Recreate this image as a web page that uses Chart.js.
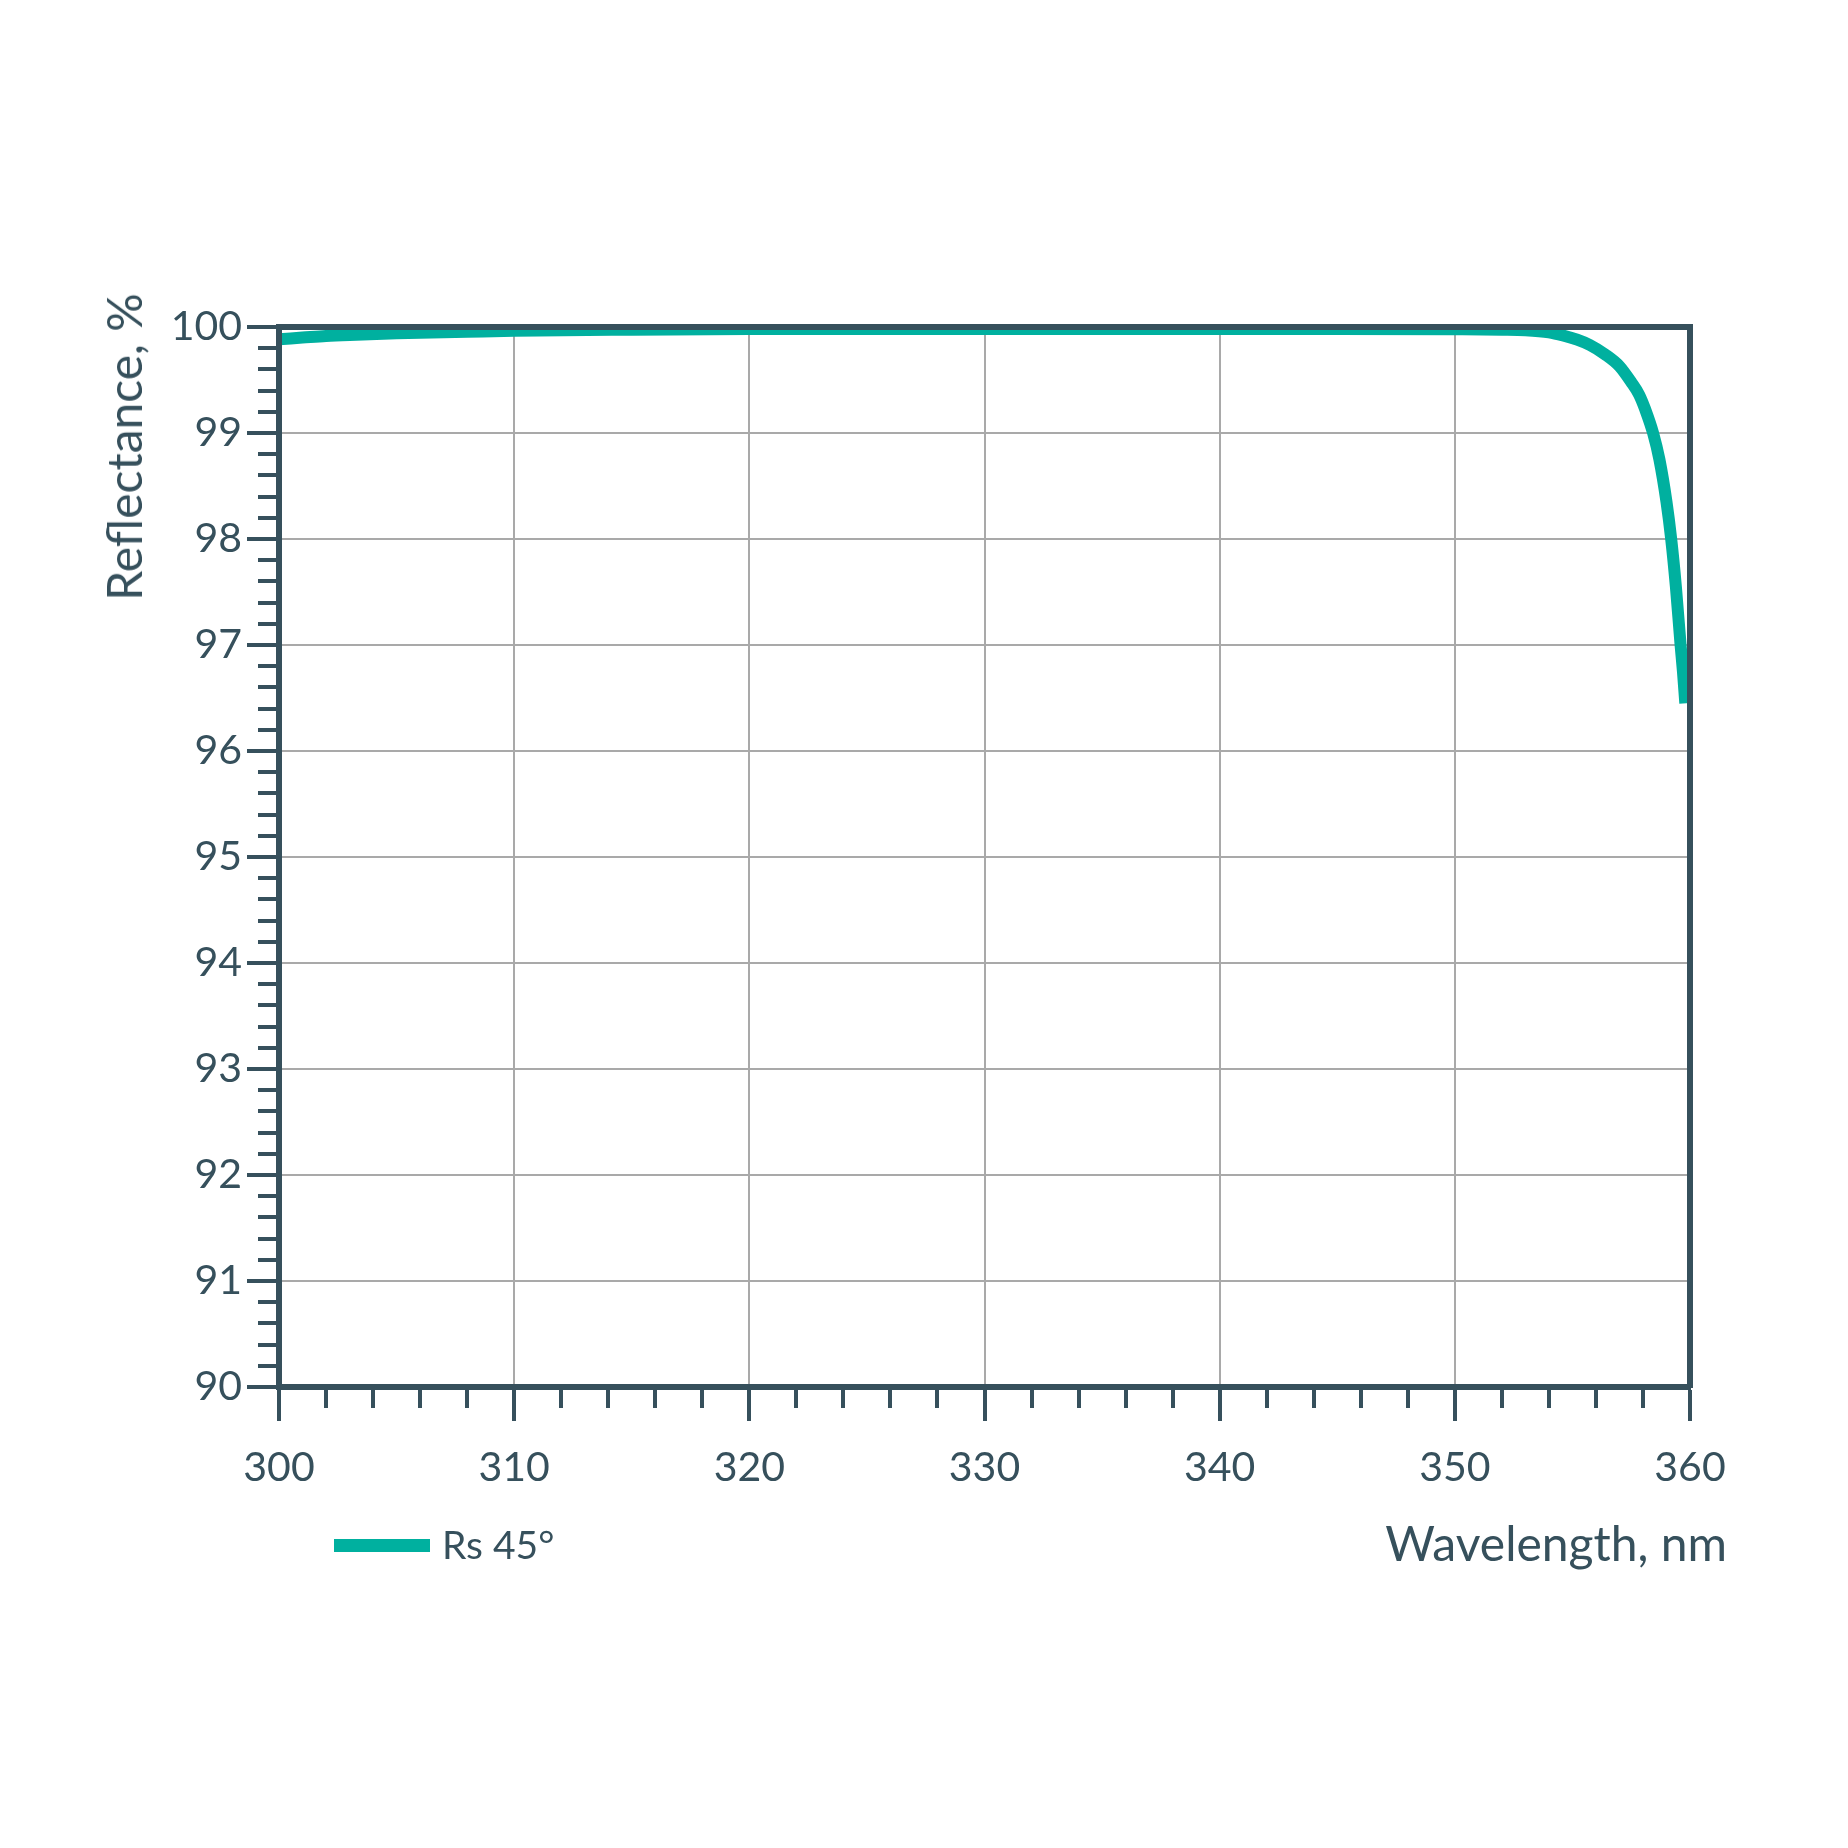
<!DOCTYPE html>
<html>
<head>
<meta charset="utf-8">
<script src="https://cdn.jsdelivr.net/npm/chart.js@4"></script>
<style>
  html, body { margin: 0; padding: 0; background: #ffffff; }
  body { width: 1848px; height: 1848px; position: relative; overflow: hidden; font-family: Lato, "Open Sans", sans-serif; color: #36505c; }
  #c { position: absolute; left: 0; top: 0; }
  .txt { position: absolute; white-space: nowrap; line-height: 1; }
  #ytitle { font-size: 48px; left: 124px; top: 447px; transform: translate(-50%, -50%) rotate(-90deg); }
  #xtitle { font-size: 48px; right: 121px; top: 1519px; }
  #legLine { position: absolute; left: 334px; top: 1539px; width: 96px; height: 13px; background: #00b09f; }
  #legText { font-size: 39px; left: 442px; top: 1525px; }
</style>
</head>
<body>
<canvas id="c" width="1848" height="1848"></canvas>
<div id="ytitle" class="txt">Reflectance, %</div>
<div id="xtitle" class="txt">Wavelength, nm</div>
<div id="legLine"></div>
<div id="legText" class="txt">Rs 45°</div>
<script>
// ---- data ----
const seriesLabel = 'Rs 45°';
const wavelengths = [300, 301, 302, 303, 305, 308, 310, 315, 320, 330, 340, 345, 350, 352, 353, 354, 354.6, 355.2, 355.74, 356.4, 357.0, 357.5, 357.84, 358.1, 358.43, 358.7, 359.0, 359.2, 359.4, 359.6, 359.7, 359.8];
const reflectance = [99.885, 99.9, 99.915, 99.925, 99.94, 99.955, 99.965, 99.975, 99.98, 99.98, 99.98, 99.98, 99.978, 99.975, 99.97, 99.95, 99.92, 99.88, 99.83, 99.74, 99.63, 99.48, 99.36, 99.22, 99.0, 98.75, 98.35, 98.0, 97.55, 97.0, 96.75, 96.45];
const xRange = [300, 360];
const xMajorStep = 10, xMinorStep = 2;
const yRange = [90, 100];
const yMajorStep = 1, yMinorStep = 0.2;

// ---- styles ----
const AXIS = '#36505c';
const GRID = '#a9a9a9';
const TEAL = '#00b09f';
const TICK_FONT = { family: 'Lato', size: 41 };

const isMajor = (v, step) => Math.abs(v / step - Math.round(v / step)) < 1e-6;

const points = wavelengths.map((x, i) => ({ x: x, y: reflectance[i] }));

new Chart(document.getElementById('c').getContext('2d'), {
  type: 'line',
  data: {
    datasets: [{
      label: seriesLabel,
      data: points,
      borderColor: TEAL,
      backgroundColor: TEAL,
      borderWidth: 12,
      pointRadius: 0,
      cubicInterpolationMode: 'monotone',
      clip: 0,
      xAxisID: 'x',
      yAxisID: 'y'
    }]
  },
  options: {
    responsive: false,
    animation: false,
    devicePixelRatio: 1,
    layout: { padding: { top: 327, right: 158, bottom: 0, left: 0 } },
    plugins: { legend: { display: false }, tooltip: { enabled: false } },
    scales: {
      x: {
        type: 'linear', position: 'bottom', min: xRange[0], max: xRange[1],
        afterFit(s) { s.height = 461; },
        border: { display: true, color: AXIS, width: 6, z: 1 },
        grid: {
          color: c => isMajor(c.tick.value, xMajorStep) ? GRID : 'rgba(0,0,0,0)',
          lineWidth: 2,
          tickColor: AXIS, tickWidth: 4, tickLength: 34,
          tickBorderDash: c => isMajor(c.tick.value, xMajorStep) ? [] : [18, 200]
        },
        ticks: {
          stepSize: xMinorStep, autoSkip: false, maxRotation: 0, minRotation: 0, maxTicksLimit: 200,
          callback: v => isMajor(v, xMajorStep) ? String(Math.round(v)) : '',
          font: TICK_FONT, color: AXIS, padding: 22
        }
      },
      y: {
        type: 'linear', position: 'left', min: yRange[0], max: yRange[1],
        afterFit(s) { s.width = 279; },
        border: { display: true, color: AXIS, width: 6, z: 1 },
        grid: {
          color: c => isMajor(c.tick.value, yMajorStep) ? GRID : 'rgba(0,0,0,0)',
          lineWidth: 2,
          tickColor: AXIS, tickWidth: 4, tickLength: 32,
          tickBorderDash: c => isMajor(c.tick.value, yMajorStep) ? [] : [0, 11, 200]
        },
        ticks: {
          stepSize: yMinorStep, autoSkip: false, maxTicksLimit: 200,
          callback: v => isMajor(v, yMajorStep) ? String(Math.round(v)) : '',
          font: TICK_FONT, color: AXIS, padding: 5
        }
      },
      xTop: {
        type: 'linear', position: 'top', min: xRange[0], max: xRange[1],
        afterFit(s) { s.height = 0; },
        border: { display: true, color: AXIS, width: 6, z: 1 },
        grid: { drawOnChartArea: false, drawTicks: false },
        ticks: { display: false }
      },
      yRight: {
        type: 'linear', position: 'right', min: yRange[0], max: yRange[1],
        afterFit(s) { s.width = 0; },
        border: { display: true, color: AXIS, width: 6, z: 1 },
        grid: { drawOnChartArea: false, drawTicks: false },
        ticks: { display: false }
      }
    }
  }
});
</script>
</body>
</html>
